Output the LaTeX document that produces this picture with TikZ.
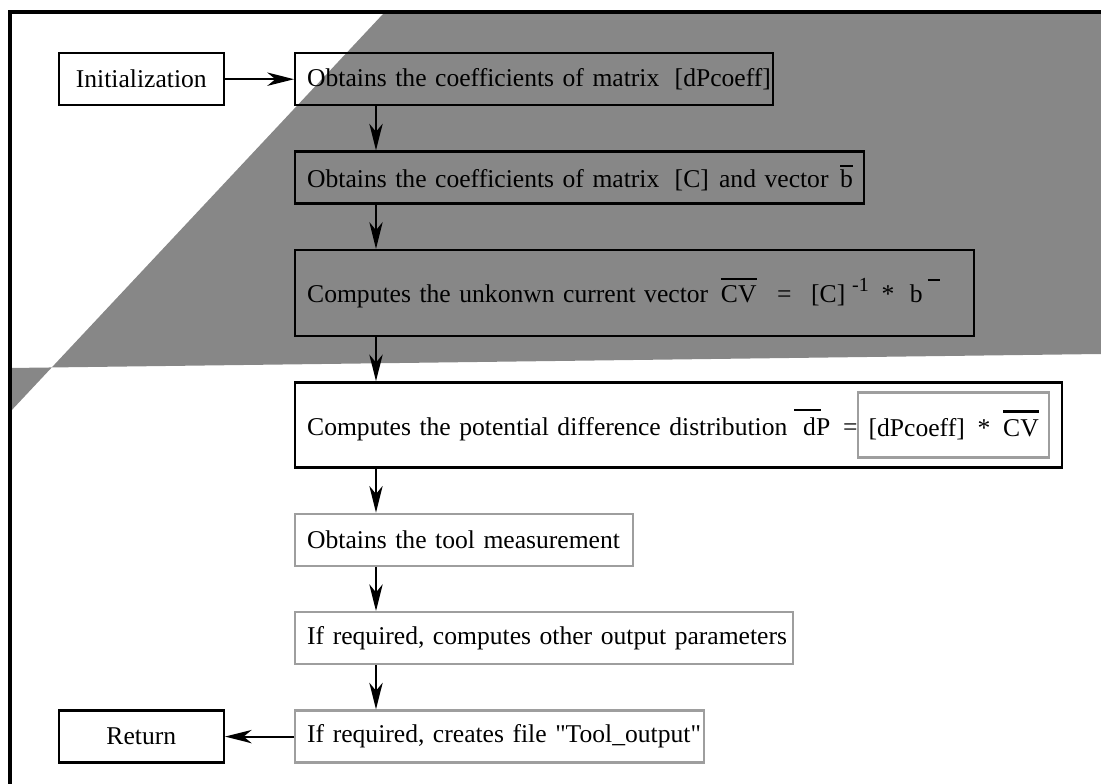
\documentclass[tikz,border=0pt]{standalone}
\usepackage{fontspec}
\setmainfont{Liberation Serif}
\usetikzlibrary{positioning, arrows.meta}
\definecolor{bandgray}{gray}{0.53}
\definecolor{hatchgray}{gray}{0.62}
\tikzstyle{stepbox} = [rectangle, draw=black, line width=1.8pt, inner xsep=0pt, inner ysep=0pt, minimum height=39pt, align=left, execute at begin node={\hspace*{9pt}\hbox\bgroup}, execute at end node={\egroup}]
\tikzstyle{graybox} = [stepbox, draw=hatchgray]
\tikzstyle{endbox} = [rectangle, draw=black, line width=1.8pt, minimum width=123.75pt, minimum height=39pt, align=center]
\tikzstyle{arrow} = [line width=1.5pt, -{Stealth[length=20pt, width=10pt, inset=6pt]}]
\newcommand{\ovbar}[2][3pt]{\vbox{\hrule height 2pt\kern#1\hbox{#2}}}

\begin{document}
\begin{tikzpicture}[x=0.75pt, y=-0.75pt, node distance=33pt, font=\fontsize{19.2pt}{23pt}\selectfont]
	\useasboundingbox (0,0) rectangle (1101,784);
	
	% shaded band behind the chart
	\fill[bandgray] (383,14) -- (1101,14) -- (1101,354) -- (10,368) -- (10,412) -- cycle;
	\draw[line width=3.5pt] (10,784) -- (10,12) -- (1101,12);
	
	\node (coeff) [stepbox, text width=358.5pt, anchor=north west] at (294,52) {Obtains the coefficients of matrix\hspace{0.6em}[dPcoeff]};
	\node (init) [endbox, left=51.75pt of coeff] {Initialization};
	
	\node (cmat) [stepbox, text width=426.75pt, below=of coeff.south west, anchor=north west] {Obtains the coefficients of matrix\hspace{0.6em}[C]\hspace{0.4em}and vector\hspace{0.45em}\ovbar[1.5pt]{b}};
	
	\node (solve) [stepbox, text width=509.25pt, minimum height=64.5pt, below=of cmat.south west, anchor=north west] {Computes the unkonwn current vector\hspace{0.5em}\ovbar[4pt]{CV}\hspace{0.8em}=\hspace{0.77em}[C]\hspace{0.27em}\raisebox{8.5pt}{\fontsize{15pt}{15pt}\selectfont -1}\hspace{0.5em}*\hspace{0.6em}b\hspace{4pt}\rule[16pt]{9pt}{2pt}};
	
	\node (dpot) [stepbox, text width=575.25pt, minimum height=63.75pt, below=of solve.south west, anchor=north west] {Computes the potential difference distribution\hspace{0.27em}\ovbar[5pt]{\hspace{0.35em}d\hspace{0.2em}}\hspace{-0.2em}P\hspace{0.5em}=};
	\node (dprod) [rectangle, draw=hatchgray, line width=1.8pt, anchor=east, minimum width=143.25pt, minimum height=48.75pt, inner xsep=0pt, align=center] at ([xshift=-9.75pt]dpot.east) {[dPcoeff]\hspace{0.5em}*\hspace{0.5em}\ovbar[5pt]{CV}};
	
	\node (meas) [graybox, text width=253.5pt, below=of dpot.south west, anchor=north west] {Obtains the tool measurement};
	\node (param) [graybox, text width=373.5pt, below=of meas.south west, anchor=north west] {If required, computes other output parameters};
	\node (save) [graybox, text width=306.75pt, below=of param.south west, anchor=north west] {If required, creates file \textquotedbl Tool\_output\textquotedbl};
	\node (ret) [endbox, left=51.75pt of save] {Return};
	
	\coordinate (spine) at ([xshift=61.5pt]coeff.south west);
	
	\draw[arrow] (init) -- (coeff);
	\draw[arrow] (coeff.south -| spine) -- (cmat.north -| spine);
	\draw[arrow] (cmat.south -| spine) -- (solve.north -| spine);
	\draw[arrow] (solve.south -| spine) -- (dpot.north -| spine);
	\draw[arrow] (dpot.south -| spine) -- (meas.north -| spine);
	\draw[arrow] (meas.south -| spine) -- (param.north -| spine);
	\draw[arrow] (param.south -| spine) -- (save.north -| spine);
	\draw[arrow] (save) -- (ret);
\end{tikzpicture}
\end{document}
